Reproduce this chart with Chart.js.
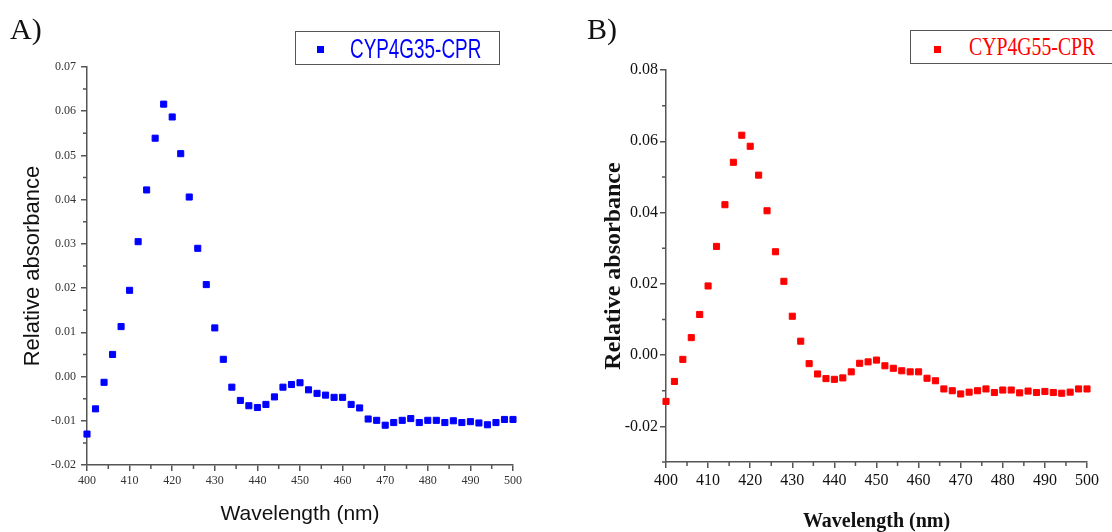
<!DOCTYPE html>
<html>
<head>
<meta charset="utf-8">
<script src="https://cdn.jsdelivr.net/npm/chart.js@4.4.1/dist/chart.umd.min.js"></script>
<style>
  body { margin: 0; background: #fff; }
  #wrap { position: relative; width: 1112px; height: 532px; overflow: hidden; background: #fff; }
  canvas { position: absolute; top: 0; }
  .panel { position: absolute; font-family: "Liberation Serif", serif; font-size: 30px; color: #111; }
  .legend { position: absolute; height: 32px; border: 1.5px solid #555; background: #fff; box-sizing: border-box; }
  .legend .mk { position: absolute; width: 7px; height: 7px; }
  .legend .txt { position: absolute; white-space: nowrap; transform-origin: 0 50%; }
</style>
</head>
<body>
<div id="wrap">
  <canvas id="chartA" width="556" height="532" style="left:0"></canvas>
  <canvas id="chartB" width="556" height="532" style="left:556px"></canvas>
  <div class="panel" style="left:10px; top:12px">A)</div>
  <div class="panel" style="left:587px; top:12px">B)</div>
  <div class="legend" style="left:295px; top:31px; width:205px; height:34px">
    <div class="mk" style="left:21px; top:14px; background:#0000ff"></div>
    <div class="txt" style="left:54px; top:2px; font-family:'Liberation Sans',Arial,sans-serif; font-size:27px; color:#0000ff; transform:scaleX(0.7)">CYP4G35-CPR</div>
  </div>
  <div class="legend" style="left:910px; top:30px; width:205px; height:34px">
    <div class="mk" style="left:23px; top:15px; background:#ff0000"></div>
    <div class="txt" style="left:58px; top:1px; font-family:'Liberation Serif',serif; font-size:26px; color:#ff0000; transform:scaleX(0.76)">CYP4G55-CPR</div>
  </div>
</div>
<script>
// wavelengths (nm), one point every 2 nm
const wavelengths = [400, 402, 404, 406, 408, 410, 412, 414, 416, 418, 420, 422, 424, 426, 428, 430, 432, 434, 436, 438, 440,
    442, 444, 446, 448, 450, 452, 454, 456, 458, 460, 462, 464, 466, 468, 470, 472, 474, 476, 478, 480,
    482, 484, 486, 488, 490, 492, 494, 496, 498, 500];

const cyp4g35 = [-0.0130, -0.0073, -0.0013, 0.0050, 0.0113, 0.0195, 0.0305, 0.0422, 0.0539, 0.0616, 0.0587,
    0.0504, 0.0406, 0.0290, 0.0208, 0.0110, 0.0039, -0.0024, -0.0054, -0.0066, -0.0070,
    -0.0063, -0.0046, -0.0024, -0.0018, -0.0014, -0.0030, -0.0038, -0.0042, -0.0047, -0.0047,
    -0.0063, -0.0071, -0.0096, -0.0099, -0.0110, -0.0104, -0.0099, -0.0095, -0.0104, -0.0099,
    -0.0099, -0.0104, -0.0100, -0.0104, -0.0102, -0.0105, -0.0109, -0.0104, -0.0097, -0.0097];

const cyp4g55 = [-0.0130, -0.0074, -0.0012, 0.0049, 0.0114, 0.0194, 0.0305, 0.0422, 0.0541, 0.0617, 0.0586,
    0.0505, 0.0405, 0.0290, 0.0207, 0.0109, 0.0039, -0.0024, -0.0053, -0.0066, -0.0068,
    -0.0064, -0.0047, -0.0023, -0.0019, -0.0014, -0.0030, -0.0037, -0.0044, -0.0047, -0.0047,
    -0.0065, -0.0072, -0.0095, -0.0100, -0.0109, -0.0104, -0.0100, -0.0095, -0.0105, -0.0098,
    -0.0098, -0.0106, -0.0101, -0.0105, -0.0102, -0.0105, -0.0107, -0.0104, -0.0095, -0.0095];

// tick labels
const xTicks = [400, 410, 420, 430, 440, 450, 460, 470, 480, 490, 500];
const xMinor = [405, 415, 425, 435, 445, 455, 465, 475, 485, 495];
const yTicksA = [-0.02, -0.01, 0.00, 0.01, 0.02, 0.03, 0.04, 0.05, 0.06, 0.07];
const yMinorA = [-0.015, -0.005, 0.005, 0.015, 0.025, 0.035, 0.045, 0.055, 0.065];
const yTicksB = [-0.02, 0.00, 0.02, 0.04, 0.06, 0.08];
const yMinorB = [-0.03, -0.01, 0.01, 0.03, 0.05, 0.07];

const axisColor = '#555';

// short minor ticks, placed with the chart's own scales
const minorTicks = {
    id: 'minorTicks',
    afterDraw(chart, args, opts) {
        const ctx = chart.ctx;
        const sx = chart.scales.x, sy = chart.scales.y;
        ctx.save();
        ctx.strokeStyle = axisColor;
        ctx.lineWidth = 1.5;
        ctx.beginPath();
        opts.x.forEach(v => {
            const px = sx.getPixelForValue(v);
            ctx.moveTo(px, sx.top);
            ctx.lineTo(px, sx.top + 4);
        });
        opts.y.forEach(v => {
            const py = sy.getPixelForValue(v);
            ctx.moveTo(sy.right - 4, py);
            ctx.lineTo(sy.right, py);
        });
        ctx.stroke();
        ctx.restore();
    }
};

const makeChart = function(id, cfg) {
    const points = wavelengths.map((w, i) => ({ x: w, y: cfg.values[i] }));
    return new Chart(document.getElementById(id), {
        type: 'scatter',
        data: {
            datasets: [{
                label: cfg.label,
                data: points,
                pointStyle: 'rect',
                pointRadius: 4.3,
                borderWidth: 1,
                backgroundColor: cfg.color,
                borderColor: cfg.color,
                clip: false,
            }],
        },
        plugins: [minorTicks],
        options: {
            responsive: false,
            animation: false,
            devicePixelRatio: 1,
            events: [],
            layout: { padding: cfg.padding },
            plugins: {
                legend: { display: false },
                tooltip: { enabled: false },
                minorTicks: { x: xMinor, y: cfg.yMinor },
            },
            scales: {
                x: {
                    type: 'linear',
                    min: 400,
                    max: 500,
                    afterBuildTicks: s => { s.ticks = xTicks.map(v => ({ value: v })); },
                    afterFit: s => { s.height = cfg.xHeight; },
                    border: { display: true, color: axisColor, width: 1.5 },
                    grid: { drawOnChartArea: false, color: axisColor, lineWidth: 1.5, tickLength: 6 },
                    ticks: {
                        autoSkip: false,
                        maxRotation: 0,
                        padding: 3,
                        color: cfg.tickColor,
                        font: { family: 'Liberation Serif', size: cfg.tickSize },
                    },
                    title: {
                        display: true,
                        text: 'Wavelength (nm)',
                        color: '#111',
                        font: cfg.xTitleFont,
                        padding: cfg.xTitlePad,
                    },
                },
                y: {
                    type: 'linear',
                    min: cfg.yMin,
                    max: cfg.yMax,
                    afterBuildTicks: s => { s.ticks = cfg.yTicks.map(v => ({ value: v })); },
                    afterFit: s => { s.width = cfg.yWidth; },
                    border: { display: true, color: axisColor, width: 1.5 },
                    grid: { drawOnChartArea: false, color: axisColor, lineWidth: 1.5, tickLength: 6 },
                    ticks: {
                        autoSkip: false,
                        padding: cfg.yTickPad,
                        color: cfg.tickColor,
                        font: { family: 'Liberation Serif', size: cfg.tickSize },
                        callback: v => v.toFixed(2),
                    },
                    title: {
                        display: true,
                        text: 'Relative absorbance',
                        color: '#111',
                        font: cfg.yTitleFont,
                        padding: cfg.yTitlePad,
                    },
                },
            },
        },
    });
};

makeChart('chartA', {
    label: 'CYP4G35-CPR',
    values: cyp4g35,
    color: '#0000ff',
    yMin: -0.02,
    yMax: 0.07,
    yTicks: yTicksA,
    yMinor: yMinorA,
    padding: { left: 0, right: 43, top: 67, bottom: 0 },
    yWidth: 87,
    xHeight: 67,
    tickColor: '#333',
    tickSize: 12,
    yTickPad: 5,
    xTitleFont: { family: 'Liberation Sans', size: 21, lineHeight: 1.2 },
    xTitlePad: { top: 0, bottom: 5 },
    yTitleFont: { family: 'Liberation Sans', size: 22, lineHeight: 1.2 },
    yTitlePad: { top: 20, bottom: 0 },
});

makeChart('chartB', {
    label: 'CYP4G55-CPR',
    values: cyp4g55,
    color: '#ff0000',
    yMin: -0.03,
    yMax: 0.08,
    yTicks: yTicksB,
    yMinor: yMinorB,
    padding: { left: 0, right: 25, top: 70, bottom: 0 },
    yWidth: 110,
    xHeight: 70,
    tickColor: '#111',
    tickSize: 16,
    yTickPad: 2,
    xTitleFont: { family: 'Liberation Serif', size: 20, weight: 'bold', lineHeight: 1 },
    xTitlePad: { top: 0, bottom: 0 },
    yTitleFont: { family: 'Liberation Serif', size: 24, weight: 'bold', lineHeight: 1.2 },
    yTitlePad: { top: 43, bottom: 0 },
});
</script>
</body>
</html>
